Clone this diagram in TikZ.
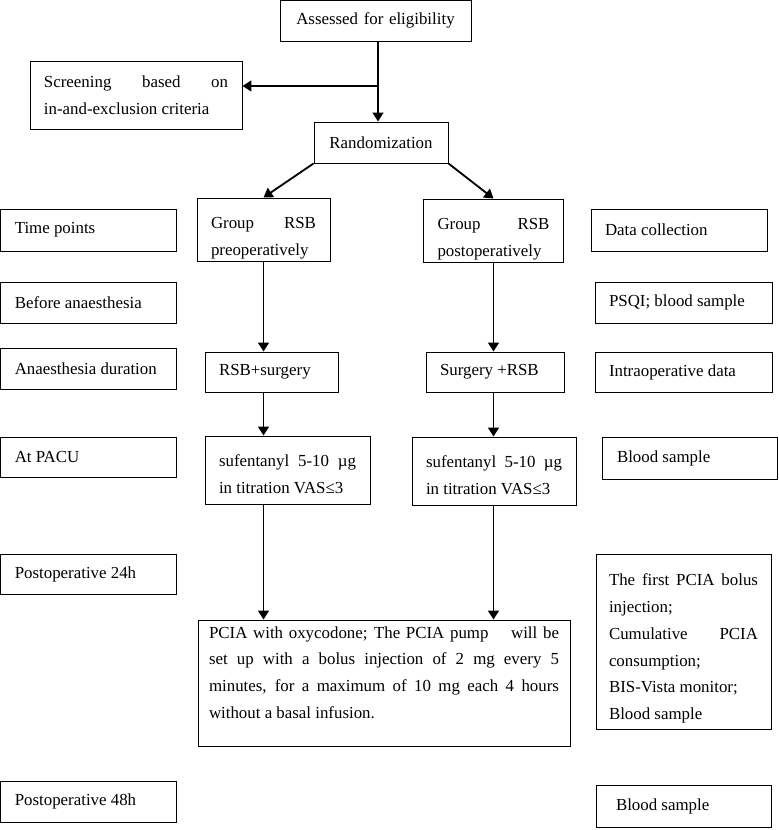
\documentclass[tikz,border=0pt]{standalone}
\usepackage{fontspec}
\setmainfont{Liberation Serif}
\usetikzlibrary{arrows.meta}
\tolerance=10000
\hyphenpenalty=10000

\begin{document}
\begin{tikzpicture}[
    box/.style={draw, line width=0.7pt, inner ysep=0pt, inner xsep=0.35cm, align=justify, font=\fontsize{12}{19}\selectfont},
    arr/.style={line width=1.3pt, -{Triangle[length=6.4pt, width=7.8pt]}}
  ]
  \useasboundingbox (0,0) rectangle (19.45,-20.75);

  % main flow
  \node[box, align=center, text width=4.075cm, minimum height=1.025cm] (assess) at (9.3875,-0.5125) {Assessed for eligibility};
  \node[box, text width=4.6cm, minimum height=1.7cm] (screen) at (3.4,-2.375) {Screening based on\linebreak in-and-exclusion criteria};
  \node[box, align=center, text width=2.65cm, minimum height=1.025cm] (rand) at (9.525,-3.5625) {Randomization};

  \node[box, text width=2.625cm, minimum height=1.575cm] (grpA) at (6.5875,-5.7375) {\rule{0pt}{20pt}Group RSB\linebreak preoperatively};
  \node[box, text width=2.8cm, minimum height=1.575cm] (grpB) at (12.3375,-5.7625) {\rule{0pt}{20pt}Group RSB\linebreak postoperatively};
  \node[box, text width=2.625cm, minimum height=1cm] (surgA) at (6.7875,-9.3) {RSB+surgery};
  \node[box, text width=2.75cm, minimum height=1cm] (surgB) at (12.375,-9.3) {Surgery +RSB};
  \node[box, text width=3.425cm, minimum height=1.7cm] (sufA) at (7.1875,-11.75) {\rule{0pt}{14pt}sufentanyl 5-10 µg\linebreak in titration VAS≤3};
  \node[box, text width=3.4cm, minimum height=1.7cm] (sufB) at (12.35,-11.775) {\rule{0pt}{14pt}sufentanyl 5-10 µg\linebreak in titration VAS≤3};
  \node[box, inner xsep=0.275cm, text width=8.75cm, minimum height=3.15cm] (pcia) at (9.6,-17.075) {PCIA with oxycodone; The PCIA pump\hspace{1em} will be\linebreak set up with a bolus injection of 2 mg every 5\linebreak minutes, for a maximum of 10 mg each 4 hours\linebreak without a basal infusion.\rule[-15pt]{0pt}{0pt}};

  % time points
  \node[box, text width=3.68cm, minimum height=1.05cm] (tp) at (2.21,-5.75) {Time points};
  \node[box, text width=3.68cm, minimum height=1.025cm] (ba) at (2.21,-7.5625) {Before anaesthesia};
  \node[box, text width=3.68cm, minimum height=1.025cm] (ad) at (2.21,-9.2125) {Anaesthesia duration};
  \node[box, text width=3.68cm, minimum height=1cm] (pacu) at (2.21,-11.425) {At PACU};
  \node[box, text width=3.68cm, minimum height=1cm] (p24) at (2.21,-14.35) {Postoperative 24h};
  \node[box, text width=3.68cm, minimum height=1.025cm] (p48) at (2.21,-20.0375) {Postoperative 48h};

  % data collection
  \node[box, text width=3.7cm, minimum height=1.05cm] (dc) at (16.975,-5.75) {Data collection};
  \node[box, text width=3.725cm, minimum height=1.025cm] (psqi) at (17.0875,-7.5625) {PSQI; blood sample};
  \node[box, text width=3.725cm, minimum height=1cm] (intra) at (17.0875,-9.3) {Intraoperative data};
  \node[box, inner xsep=0.375cm, text width=3.625cm, minimum height=1.05cm] (bsA) at (17.2375,-11.45) {Blood sample};
  \node[box, inner xsep=0.325cm, text width=3.725cm, minimum height=4.375cm] (dat24) at (17.0875,-16.0375) {\rule{0pt}{18.5pt}The first PCIA bolus\linebreak injection;\\ Cumulative PCIA\linebreak consumption;\\ BIS-Vista monitor;\\ Blood sample};
  \node[box, inner xsep=0.5cm, text width=3.375cm, minimum height=1.05cm] (bsB) at (17.0875,-20.15) {Blood sample};

  % arrows
  \coordinate (split) at (9.45,-2.15);
  \draw[arr] (assess.south -| split) -- (split |- rand.north);
  \draw[arr] (split) -- (split -| screen.east);
  \draw[arr] (rand.south west) -- (grpA.north);
  \draw[arr] (rand.south east) -- (grpB.north);

  \draw[arr] (grpA.south) -- (grpA.south |- surgA.north);
  \draw[arr] (grpA.south |- surgA.south) -- (grpA.south |- sufA.north);
  \draw[arr] (grpA.south |- sufA.south) -- (grpA.south |- pcia.north);
  \draw[arr] (grpB.south) -- (grpB.south |- surgB.north);
  \draw[arr] (grpB.south |- surgB.south) -- (grpB.south |- sufB.north);
  \draw[arr] (grpB.south |- sufB.south) -- (grpB.south |- pcia.north);
\end{tikzpicture}
\end{document}
